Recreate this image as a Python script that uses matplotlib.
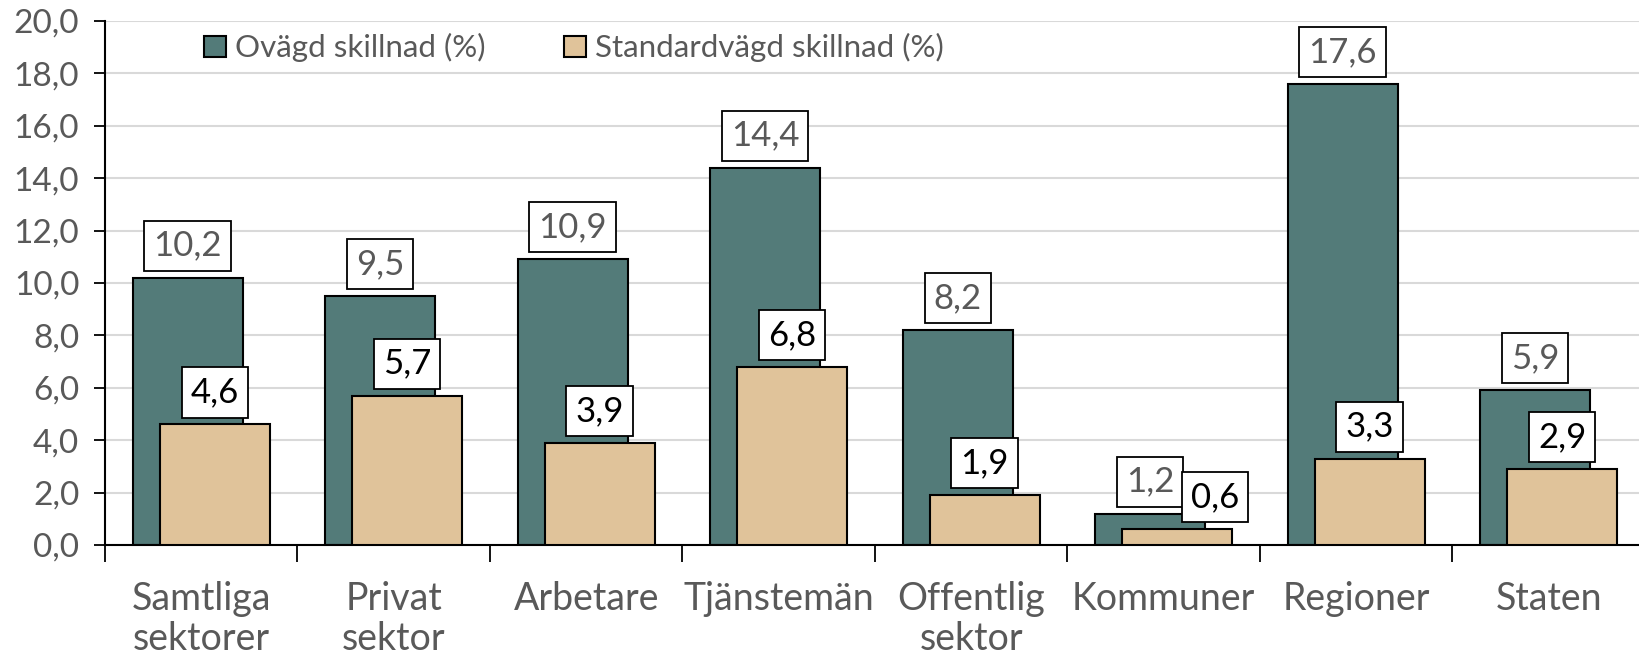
import matplotlib
matplotlib.use("Agg")
import matplotlib.pyplot as plt
import numpy as np

plt.rcParams['font.family'] = ['Lato', 'DejaVu Sans']

kategorier = ["Samtliga\nsektorer", "Privat\nsektor", "Arbetare", "Tjänstemän",
              "Offentlig\nsektor", "Kommuner", "Regioner", "Staten"]
ovagd = [10.2, 9.5, 10.9, 14.4, 8.2, 1.2, 17.6, 5.9]
standardvagd = [4.6, 5.7, 3.9, 6.8, 1.9, 0.6, 3.3, 2.9]
serienamn = ["Ovägd skillnad (%)", "Standardvägd skillnad (%)"]

TEAL = "#537b79"
TAN = "#e0c39a"
GRA = "#595959"

fig = plt.figure(figsize=(16.4, 6.54), dpi=100)
ax = fig.add_axes([0.064, 0.1667, 0.939, 0.8013])

x = np.arange(len(kategorier))
bredd = 0.57
forskj = 0.07

ax.bar(x - forskj, ovagd, bredd, color=TEAL, edgecolor="black", lw=1.5,
       label=serienamn[0], zorder=2)
ax.bar(x + forskj, standardvagd, bredd, color=TAN, edgecolor="black", lw=1.5,
       label=serienamn[1], zorder=3)

def fmt(v):
    return f"{v:.1f}".replace(".", ",")

box = dict(boxstyle="square,pad=0.26", fc="white", ec="black", lw=1.3)
for xi, v in zip(x - forskj, ovagd):
    ax.annotate(fmt(v), (xi, v), xytext=(0, 11.5), textcoords="offset points",
                ha="center", va="bottom", fontsize=25, color=GRA, bbox=box, zorder=4)
for i, (xi, v) in enumerate(zip(x + forskj, standardvagd)):
    dx = 27 if i == 5 else 0
    ax.annotate(fmt(v), (xi, v), xytext=(dx, 11.5), textcoords="offset points",
                ha="center", va="bottom", fontsize=25, color="black", bbox=box, zorder=5)

ax.set_ylim(0, 20)
ax.set_xlim(-0.5, len(kategorier) - 0.5)
ax.set_yticks(np.arange(0, 21, 2))
ax.set_yticklabels([fmt(v) for v in np.arange(0, 21, 2)])
ax.tick_params(axis="y", labelsize=24, labelcolor=GRA, length=8, width=1.3,
               direction="out", pad=10.5)

ax.set_xticks(x)
ax.set_xticklabels(kategorier, fontsize=27, color=GRA, linespacing=1.12)
ax.tick_params(axis="x", which="major", length=0, pad=26)
ax.set_xticks(np.arange(-0.5, len(kategorier)), minor=True)
ax.tick_params(axis="x", which="minor", length=12, width=1.3)

ax.yaxis.grid(True, color="#d9d9d9", lw=1.5, zorder=0)
ax.set_axisbelow(True)
for s in ["top", "right"]:
    ax.spines[s].set_visible(False)
ax.spines["left"].set_linewidth(1.5)
ax.spines["bottom"].set_linewidth(1.5)

ax.legend(loc="upper left", bbox_to_anchor=(0.046, 1.03), ncol=2, frameon=False,
          fontsize=22.5, labelcolor=GRA, handlelength=0.7, handleheight=0.7,
          handletextpad=0.3, columnspacing=2.5)

fig.savefig("out.png", dpi=100)
